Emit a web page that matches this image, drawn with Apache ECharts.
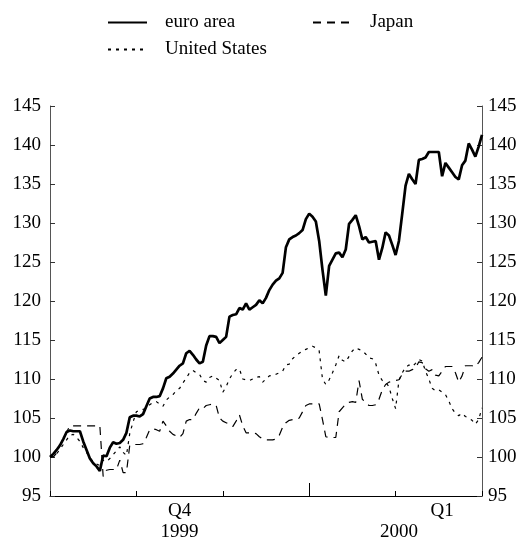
<!DOCTYPE html>
<html>
<head>
<meta charset="utf-8">
<script src="https://cdn.jsdelivr.net/npm/echarts@6/dist/echarts.min.js"></script>
<style>
html, body { margin: 0; padding: 0; background: #fff; }
#main { width: 526px; height: 542px; }
</style>
</head>
<body>
<div id="main"></div>
<script>
// index levels, start of period = 100
var euroArea = [
	100.0, 100.4, 100.9, 101.5, 102.3, 103.2, 103.4, 103.3, 103.3, 103.3,
	102.0, 100.9, 99.8, 99.2, 98.8, 98.2, 100.2, 100.1, 101.2, 101.9,
	101.7, 101.8, 102.2, 103.1, 105.1, 105.3, 105.3, 105.2, 105.5, 106.5,
	107.5, 107.7, 107.7, 107.8, 108.8, 110.1, 110.3, 110.7, 111.2, 111.7,
	112.0, 113.3, 113.6, 113.1, 112.5, 112.0, 112.2, 114.3, 115.5, 115.5,
	115.4, 114.6, 115.0, 115.4, 118.0, 118.2, 118.3, 119.1, 118.9, 119.7,
	118.9, 119.2, 119.5, 120.1, 119.7, 120.4, 121.4, 122.1, 122.6, 122.9,
	123.6, 126.9, 127.9, 128.2, 128.4, 128.7, 129.1, 130.5, 131.2, 130.8,
	130.2, 127.7, 124.0, 120.7, 124.5, 125.3, 126.1, 126.2, 125.6, 126.6,
	129.9, 130.4, 131.0, 129.6, 127.9, 128.2, 127.5, 127.6, 127.7, 125.3,
	126.8, 128.8, 128.4, 127.2, 125.9, 127.7, 131.2, 134.8, 136.3, 135.6,
	135.0, 138.1, 138.2, 138.4, 139.1, 139.1, 139.1, 139.1, 136.0, 137.7,
	137.1, 136.5, 135.9, 135.6, 137.4, 138.0, 140.2, 139.4, 138.5, 139.8,
	141.3
];
var unitedStates = [
	100.0, 100.1, 100.4, 101.0, 101.6, 102.2, 102.8, 102.9, 102.5, 102.0,
	101.2, 100.6, 99.9, 99.4, 99.1, 98.9, 99.6, 99.4, 99.8, 100.3,
	100.8, 101.3, 100.6, 100.2, 103.0, 104.5, 105.8, 106.0, 106.1, 106.3,
	106.7, 107.0, 107.1, 106.8, 106.5, 107.3, 107.7, 108.0, 108.5, 108.8,
	109.5, 110.1, 110.8, 111.1, 110.8, 110.6, 109.8, 109.6, 110.2, 110.4,
	110.1, 109.8, 108.3, 109.0, 110.0, 110.7, 111.2, 111.3, 110.0, 109.9,
	109.8, 110.0, 110.2, 110.3, 109.6, 110.0, 110.4, 110.5, 110.6, 110.8,
	111.0, 111.8, 111.9, 112.6, 113.0, 113.3, 113.6, 113.8, 114.0, 114.2,
	114.0, 113.6, 110.0, 109.3, 109.9, 110.8, 111.8, 113.0, 112.4, 112.2,
	112.9, 113.6, 114.0, 113.8, 113.6, 113.2, 112.7, 112.6, 112.0, 110.5,
	109.8, 109.6, 109.0, 107.5, 106.2, 109.8, 110.8, 111.5, 111.8, 111.6,
	112.0, 112.5, 112.3, 111.0, 110.0, 108.8, 108.5, 108.6, 108.3, 108.0,
	107.2, 106.2, 105.6, 105.3, 105.6, 105.2, 105.0, 104.7, 104.2, 104.8,
	106.3
];
var japan = [
	100.0, 100.0, 100.5, 101.5, 102.3, 103.2, 104.0, 104.0, 104.0, 104.0,
	104.0, 104.0, 104.0, 104.0, 104.0, 104.0, 97.5, 98.3, 98.4, 98.4,
	98.4, 99.6, 98.0, 98.0, 101.5, 101.6, 101.6, 101.6, 101.7, 102.5,
	103.5, 103.6, 103.5, 103.3, 104.6, 104.0, 103.3, 102.9, 102.7, 102.5,
	103.0, 104.6, 104.8, 104.8, 105.6, 106.3, 106.2, 106.6, 106.7, 106.8,
	106.6, 105.0, 104.6, 104.4, 104.2, 103.9, 104.6, 105.4, 104.0, 103.1,
	103.1, 103.1, 103.0, 102.6, 102.3, 102.2, 102.2, 102.2, 102.3, 102.8,
	103.8, 104.4, 104.7, 104.8, 104.8, 105.0, 105.8, 106.6, 106.8, 106.8,
	106.8, 106.8, 104.8, 102.6, 102.5, 102.5, 102.5, 105.8, 106.3, 106.8,
	107.0, 107.1, 107.0, 109.8, 107.4, 107.0, 106.6, 106.6, 106.7, 107.4,
	108.6, 109.3, 109.6, 109.7, 109.8, 109.9, 110.6, 111.0, 111.0, 111.2,
	111.4, 112.2, 112.1, 111.3, 111.0, 111.2, 110.5, 110.4, 111.0, 111.6,
	111.6, 111.6, 110.8, 109.6, 110.4, 111.7, 111.7, 111.7, 111.6, 112.1,
	112.8
];

// x axis: one category per observation, quarter ticks every 26 points
var quarterTicks = [0, 26, 52, 104, 130];
var yearTick = [78];
var quarterLabels = [[39, 'Q4'], [118, 'Q1']];
var yearLabels = [[39, '1999'], [105, '2000']];

var FONT = 'Liberation Serif';

function labelAt(list, idx){
	for(var i = 0; i < list.length; i++){
		if(list[i][0] == idx){ return list[i][1]; }
	}
	return null;
}

function buildOption(){
	var cats = [];
	for(var i = 0; i < euroArea.length; i++){ cats.push(String(i)); }

	var yAxisBase = function(pos){
		return {
			type: 'value',
			position: pos,
			min: 95,
			max: 145,
			interval: 5,
			splitLine: { show: false },
			axisLine: { show: true, lineStyle: { color: '#555', width: 1 } },
			axisTick: { show: true, inside: true, length: 5, lineStyle: { color: '#333' } },
			axisLabel: { color: '#000', fontFamily: FONT, fontSize: 19, margin: pos == 'left' ? 9 : 6 }
		};
	};

	var legendItem = function(name, left, top){
		return {
			data: [name],
			left: left,
			top: top,
			itemWidth: 39,
			itemHeight: 14,
			selectedMode: false,
			itemStyle: { color: 'rgba(0,0,0,0)', borderWidth: 0 },
			textStyle: { color: '#000', fontFamily: FONT, fontSize: 19, padding: [0, 0, 0, 13] }
		};
	};

	return {
		animation: false,
		backgroundColor: '#fff',
		grid: { left: 50, right: 44, top: 106, bottom: 46 },
		legend: [
			legendItem('euro area', 102, 8),
			legendItem('Japan', 307, 8),
			legendItem('United States', 102, 35)
		],
		xAxis: [
			{
				type: 'category',
				data: cats,
				boundaryGap: false,
				axisLine: { show: true, lineStyle: { color: '#000', width: 1 } },
				axisTick: {
					show: true, inside: true, length: 5,
					interval: function(idx){ return quarterTicks.indexOf(idx) >= 0; },
					lineStyle: { color: '#000' }
				},
				axisLabel: {
					interval: function(idx){ return labelAt(quarterLabels, idx) !== null; },
					formatter: function(v, idx){ return labelAt(quarterLabels, idx) || ''; },
					color: '#000', fontFamily: FONT, fontSize: 19, margin: 6
				},
				splitLine: { show: false }
			},
			{
				type: 'category',
				data: cats,
				boundaryGap: false,
				position: 'bottom',
				axisLine: { show: false },
				axisTick: {
					show: true, inside: true, length: 13,
					interval: function(idx){ return yearTick.indexOf(idx) >= 0; },
					lineStyle: { color: '#000' }
				},
				axisLabel: {
					interval: function(idx){ return labelAt(yearLabels, idx) !== null; },
					formatter: function(v, idx){ return labelAt(yearLabels, idx) || ''; },
					color: '#000', fontFamily: FONT, fontSize: 19, margin: 27
				},
				splitLine: { show: false }
			}
		],
		yAxis: [yAxisBase('left'), yAxisBase('right')],
		series: [
			{
				name: 'euro area',
				type: 'line',
				data: euroArea,
				symbol: 'none',
				lineStyle: { color: '#000', width: 2.7, type: 'solid' },
				itemStyle: { color: '#000' },
				z: 5
			},
			{
				name: 'Japan',
				type: 'line',
				data: japan,
				symbol: 'none',
				lineStyle: { color: '#000', width: 1.2, type: [8, 6] },
				itemStyle: { color: '#000' }
			},
			{
				name: 'United States',
				type: 'line',
				data: unitedStates,
				symbol: 'none',
				lineStyle: { color: '#000', width: 1.2, type: [3, 5] },
				itemStyle: { color: '#000' }
			}
		]
	};
}

var myChart = echarts.init(document.getElementById('main'));
myChart.setOption(buildOption(), true);
</script>
</body>
</html>
